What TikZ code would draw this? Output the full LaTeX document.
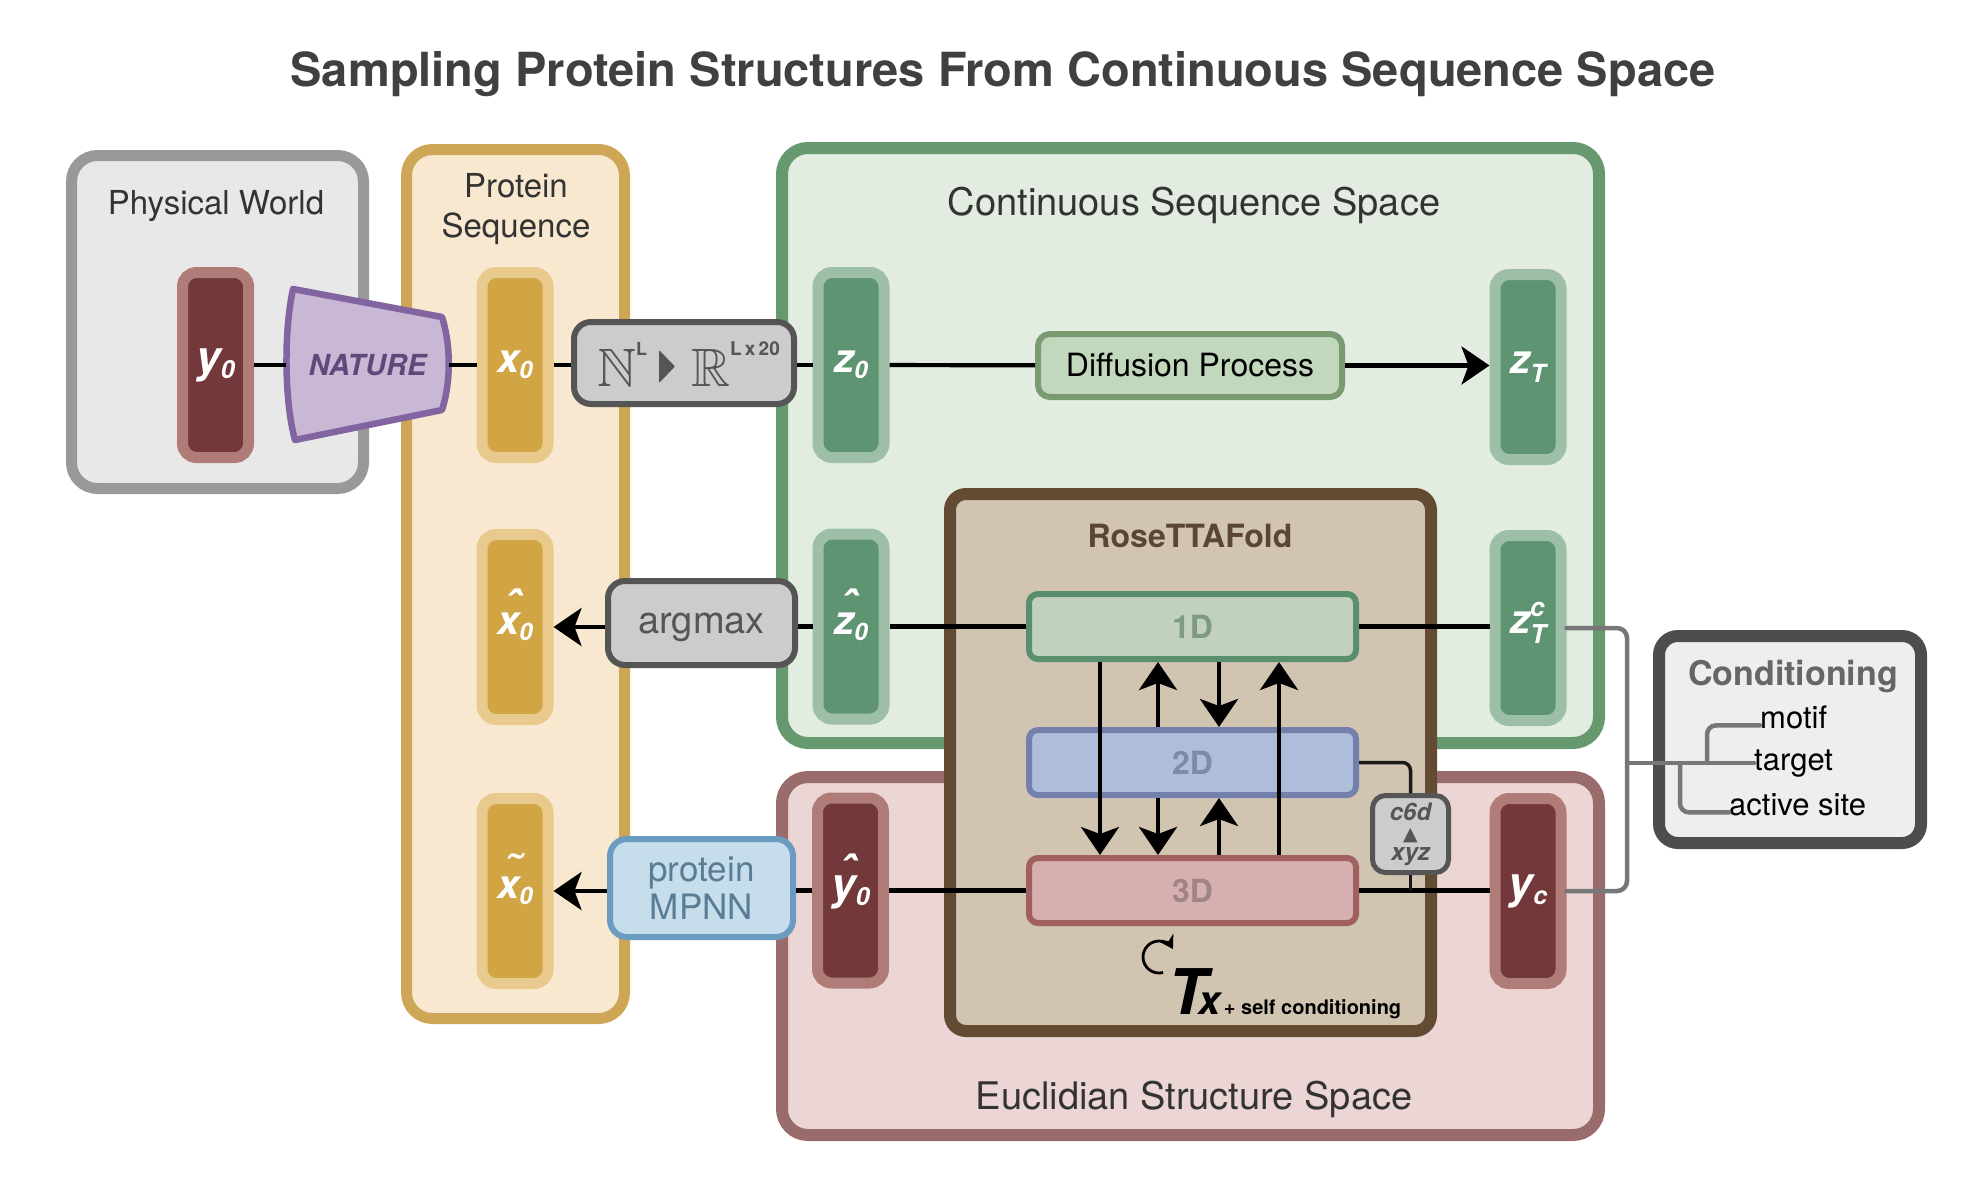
\documentclass[tikz,border=0pt]{standalone}
\usepackage{amssymb}
\usepackage{graphicx}
\usepackage{fontspec}
\setmainfont{TeX Gyre Heros}
\newfontfamily\dejavu{DejaVu Sans}
\usetikzlibrary{arrows.meta}

\definecolor{pwfill}{HTML}{E8E8E8}\definecolor{pwdraw}{HTML}{999999}
\definecolor{psfill}{HTML}{F7E8CF}\definecolor{psdraw}{HTML}{CDA656}
\definecolor{csfill}{HTML}{E2ECE0}\definecolor{csdraw}{HTML}{67996F}
\definecolor{esfill}{HTML}{ECD6D5}\definecolor{esdraw}{HTML}{9A6B6B}
\definecolor{rtfill}{HTML}{D1C4B1}\definecolor{rtdraw}{HTML}{634A33}\definecolor{rttext}{HTML}{5B4636}
\definecolor{yout}{HTML}{B07C78}\definecolor{yin}{HTML}{733839}
\definecolor{xout}{HTML}{E8CB8C}\definecolor{xin}{HTML}{D1A544}
\definecolor{zout}{HTML}{9DBFA8}\definecolor{zin}{HTML}{5E9471}
\definecolor{natfill}{HTML}{C8B8D5}\definecolor{natdraw}{HTML}{8264A0}\definecolor{nattext}{HTML}{5E4A7A}
\definecolor{gfill}{HTML}{CCCCCC}\definecolor{gdraw}{HTML}{555555}
\definecolor{dpfill}{HTML}{C1D8BD}\definecolor{dpdraw}{HTML}{7A9A72}
\definecolor{mpfill}{HTML}{C6DDEC}\definecolor{mpdraw}{HTML}{6B9BC0}\definecolor{mptext}{HTML}{5A7D95}
\definecolor{d1fill}{HTML}{C1D1BD}\definecolor{d1draw}{HTML}{5A8F6D}\definecolor{d1text}{HTML}{7F9A84}
\definecolor{d2fill}{HTML}{ADBDDA}\definecolor{d2draw}{HTML}{7480AC}\definecolor{d2text}{HTML}{7F8AA6}
\definecolor{d3fill}{HTML}{D6B0B0}\definecolor{d3draw}{HTML}{A06060}\definecolor{d3text}{HTML}{A08585}
\definecolor{cofill}{HTML}{EEEEEE}\definecolor{codraw}{HTML}{4D4D4D}\definecolor{cotext}{HTML}{666666}
\definecolor{brk}{HTML}{777777}
\definecolor{titlec}{HTML}{404040}
\definecolor{txtdark}{HTML}{333333}

\newcommand\capl[2]{\fontsize{40}{40}\selectfont\bfseries\itshape #1\raisebox{-6pt}{\fontsize{24}{24}\selectfont #2}}
\newcommand\capy[2]{\fontsize{44}{44}\selectfont\bfseries\itshape #1\raisebox{-6pt}{\fontsize{25}{25}\selectfont #2}}
\newcommand\accon[2]{\ooalign{#2\cr\hidewidth\smash{\raisebox{11pt}{\kern8pt\fontsize{46}{46}\selectfont#1}}\hidewidth\cr}}

\begin{document}
\begin{tikzpicture}[x=1pt,y=-1pt,
  bigbox/.style={rounded corners=26pt, line width=11pt, inner sep=0pt},
  capsule/.style={rounded corners=14pt, line width=11pt, minimum width=66pt, minimum height=185pt, inner sep=0pt, text=white},
  ycap/.style={capsule, draw=yout, fill=yin},
  xcap/.style={capsule, draw=xout, fill=xin},
  zcap/.style={capsule, draw=zout, fill=zin},
  graybox/.style={rounded corners=17pt, line width=6pt, draw=gdraw, fill=gfill, inner sep=0pt},
  layerbox/.style={rounded corners=9pt, line width=6pt, inner sep=0pt, minimum width=327pt, minimum height=65pt, font=\fontsize{32}{32}\selectfont\bfseries},
  secttitle/.style={font=\fontsize{38}{40}\selectfont, text=txtdark, inner sep=0pt, anchor=base},
  smalltitle/.style={font=\fontsize{33}{36}\selectfont, text=txtdark, inner sep=0pt, anchor=base},
  conn/.style={line width=4.2pt, draw=black},
  arr/.style={conn, -{Stealth[length=28pt,width=38pt,inset=7pt]}},
  brkline/.style={line width=4.5pt, draw=brk, line cap=round},
  condline/.style={line width=3.5pt, draw=black!90},
  itemtext/.style={font=\fontsize{31}{31}\selectfont, inner sep=0pt, anchor=base west},
]
\useasboundingbox (0,0) rectangle (1964,1180);

% ---------- big boxes ----------
\node[bigbox, draw=pwdraw, fill=pwfill, minimum width=292pt, minimum height=333pt] (pw) at (217.5,322) {};
\node[bigbox, draw=psdraw, fill=psfill, minimum width=218pt, minimum height=869pt] (ps) at (515.5,584) {};
\node[bigbox, line width=12pt, draw=csdraw, fill=csfill, minimum width=817pt, minimum height=595pt] (cs) at (1190.5,445.5) {};
\node[bigbox, line width=12pt, draw=esdraw, fill=esfill, minimum width=817pt, minimum height=358pt] (es) at (1190.5,956) {};
\node[bigbox, rounded corners=16pt, line width=12pt, draw=rtdraw, fill=rtfill, minimum width=481pt, minimum height=537pt] (rt) at (1190.5,762.5) {};
\node[bigbox, rounded corners=19pt, line width=12pt, draw=codraw, fill=cofill, minimum width=262pt, minimum height=207pt] (co) at (1790,739.5) {};

% ---------- titles ----------
\node[anchor=base, inner sep=0pt, font=\fontsize{47}{50}\selectfont\bfseries, text=titlec] (title) at (1003,87) {Sampling Protein Structures From Continuous Sequence Space};
\node[smalltitle] (pwt) at (216,214) {Physical World};
\node[smalltitle] (pst1) at (516,197) {Protein};
\node[smalltitle] (pst2) at (516,237) {Sequence};
\node[secttitle] (cst) at (1194,215) {Continuous Sequence Space};
\node[secttitle] (est) at (1194,1109) {Euclidian Structure Space};
\node[anchor=base, inner sep=0pt, font=\fontsize{32}{32}\selectfont\bfseries, text=rttext] (rtt) at (1190,547) {RoseTTAFold};
\node[anchor=base, inner sep=0pt, font=\fontsize{34}{34}\selectfont\bfseries, text=cotext] (cot) at (1793,685) {Conditioning};
\node[itemtext] (motif) at (1760,728) {motif};
\node[itemtext] (target) at (1754,770) {target};
\node[itemtext] (active) at (1729,815) {active site};

% ---------- NATURE ----------
\filldraw[draw=natdraw, fill=natfill, line width=6.5pt, line join=round]
  (293,289) -- (442,317) .. controls (451,345) and (451,382) .. (442,410)
  -- (295,440) .. controls (284,400) and (284,330) .. (293,289) -- cycle;
\node[inner sep=0pt, minimum width=163pt, minimum height=150pt, font=\fontsize{29}{29}\selectfont\bfseries\itshape, text=nattext] (nat) at (367.5,365) {NATURE};

% ---------- capsules ----------
\node[ycap] (y0) at (215.5,365) {\capy{y}{0}};
\node[xcap] (x0) at (515,365) {\capl{x}{0}};
\node[zcap] (z0) at (851,365) {\capl{z}{0}};
\node[zcap] (zT) at (1528,367) {\fontsize{40}{40}\selectfont\bfseries\itshape z\raisebox{-9pt}{\fontsize{25}{25}\selectfont T}};
\node[xcap] (xh) at (515,627) {\capl{\accon{\symbol{"02C6}}{x}}{0}};
\node[zcap] (zh) at (851,626.5) {\capl{\accon{\symbol{"02C6}}{z}}{0}};
\node[zcap] (zTc) at (1528,628) {\fontsize{40}{40}\selectfont\bfseries\itshape z\rlap{\smash{\raisebox{17pt}{\fontsize{26}{26}\selectfont c}}}\raisebox{-10pt}{\fontsize{26}{26}\selectfont T}};
\node[xcap] (xt) at (515,891) {\capl{\accon{\symbol{"02DC}}{x}}{0}};
\node[ycap] (yh) at (850.5,890.5) {\capy{\accon{\symbol{"02C6}}{y}}{0}};
\node[ycap] (yc) at (1528,891) {\capy{y}{c}};

% ---------- process boxes ----------
\node[graybox, minimum width=220pt, minimum height=82pt] (nr) at (684,363) {};
\node[anchor=base west, inner sep=0pt, text=gdraw] (nl) at (597,386) {\fontsize{54}{54}\selectfont$\mathbb{N}$\raisebox{31pt}{\fontsize{18}{18}\selectfont\bfseries L}};
\node[anchor=base west, inner sep=0pt, text=gdraw] (rl) at (691,386) {\fontsize{54}{54}\selectfont$\mathbb{R}$\raisebox{31pt}{\fontsize{19}{19}\selectfont\bfseries L\,x\,20}};
\fill[gdraw, rounded corners=1pt] (659,350) -- (675,366.5) -- (659,383) -- cycle;

\node[rounded corners=12pt, line width=6pt, draw=dpdraw, fill=dpfill, minimum width=304pt, minimum height=63pt, inner sep=0pt, font=\fontsize{32}{32}\selectfont] (dp) at (1190,365.5) {Diffusion Process};
\node[graybox, minimum width=187pt, minimum height=84pt, font=\fontsize{38}{38}\selectfont, text=gdraw, text depth=0pt] (am) at (701.5,623) {argmax};
\node[rounded corners=17pt, line width=6pt, draw=mpdraw, fill=mpfill, minimum width=183pt, minimum height=98pt, inner sep=0pt, align=center, font=\fontsize{35}{38}\selectfont, text=mptext] (mp) at (701.5,888) {protein\\MPNN};

\node[layerbox, draw=d1draw, fill=d1fill, text=d1text] (d1) at (1192.5,626.5) {1D};
\node[layerbox, draw=d2draw, fill=d2fill, text=d2text] (d2) at (1192.5,762.5) {2D};
\node[layerbox, draw=d3draw, fill=d3fill, text=d3text] (d3) at (1192.5,890.5) {3D};

\node[rounded corners=13pt, line width=5pt, draw=gdraw, fill=gfill, minimum width=76pt, minimum height=77pt, inner sep=0pt, align=center, text=gdraw, font=\fontsize{24}{20}\selectfont\bfseries\itshape] (c6) at (1410.5,834) {c6d\\{\dejavu\upshape\fontsize{19}{20}\selectfont ▲}\\xyz};

% ---------- Tx ----------
\node[anchor=base west, inner sep=0pt] (tx) at (1168,1014) {\fontsize{63}{63}\selectfont\bfseries\itshape T\kern-8pt\fontsize{40}{40}\selectfont x\kern3pt\fontsize{20}{20}\selectfont\upshape + self conditioning};
\draw[line width=2.8pt, -{Stealth[length=13pt,width=16pt]}]
  (1163.1,972.5) .. controls (1152.9,975.2) and (1143,967.5) .. (1143,957)
  .. controls (1143,948.2) and (1150.2,941) .. (1159,941)
  .. controls (1164.7,941) and (1170.0,944.0) .. (1172.9,949);

% ---------- connectors ----------
\draw[conn] (y0) -- (nat);
\draw[conn] (nat) -- (x0);
\draw[conn] (x0.east) -- (x0.east -| nr.west);
\draw[conn] (z0.west -| nr.east) -- (z0.west);
\draw[conn] (z0) -- (dp);
\draw[arr] (dp.east) -- (dp.east -| zT.west);

\draw[arr] (am.west |- xh) -- (xh.east);
\draw[conn] (zh.west) -- (zh.west -| am.east);
\draw[conn] (zh.east) -- (zh.east -| d1.west);
\draw[conn] (d1.east) -- (d1.east -| zTc.west);

\draw[arr] (mp.west |- xt) -- (xt.east);
\draw[conn] (yh.west) -- (yh.west -| mp.east);
\draw[conn] (yh.east) -- (yh.east -| d3.west);
\draw[conn] (d3.east) -- (d3.east -| yc.west);

\coordinate (a1) at (1100,0);
\coordinate (a2) at (1158,0);
\coordinate (a3) at (1219,0);
\coordinate (a4) at (1279,0);
\draw[arr] (d1.south -| a1) -- (d3.north -| a1);
\draw[arr] (d2.north -| a2) -- (d1.south -| a2);
\draw[arr] (d2.south -| a2) -- (d3.north -| a2);
\draw[arr] (d1.south -| a3) -- (d2.north -| a3);
\draw[arr] (d3.north -| a3) -- (d2.south -| a3);
\draw[arr] (d3.north -| a4) -- (d1.south -| a4);

\draw[condline, rounded corners=8pt] (d2.east) -| (c6.north);
\draw[condline] (c6.south) -- (c6.south |- d3.east);

\coordinate (bk) at (1627,763);
\coordinate (bm) at (1707,763);
\coordinate (ba) at (1680,763);
\draw[brkline, rounded corners=10pt] (zTc.east) -| (bk) |- (yc.east);
\draw[brkline] (bk) -- (bk -| target.mid west);
\draw[brkline, rounded corners=9pt] (bm) |- (motif.mid west);
\draw[brkline, rounded corners=9pt] (ba) |- (active.mid west);
\end{tikzpicture}
\end{document}
